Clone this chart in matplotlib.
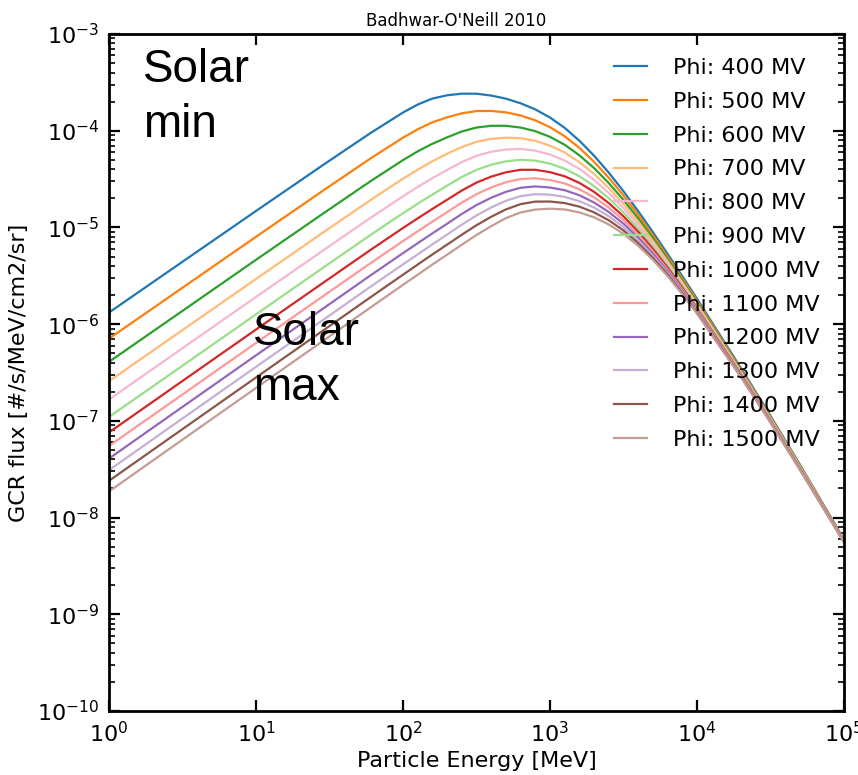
import numpy as np
import matplotlib
matplotlib.use("Agg")
import matplotlib.pyplot as plt
from matplotlib.ticker import LogLocator, NullLocator

plt.rcParams["axes.unicode_minus"] = False

# ---- data (log10 of flux, #/s/MeV/cm2/sr) ----
energy_mev = [1, 3, 10, 30, 60, 100, 126, 158, 200, 251, 316, 398, 501, 631, 794,
              1000, 1259, 1585, 1995, 2512, 3162, 3981, 5012, 6310, 7943,
              10000, 20000, 30000, 50000, 100000]

phi_labels = ["Phi: 400 MV", "Phi: 500 MV", "Phi: 600 MV", "Phi: 700 MV",
              "Phi: 800 MV", "Phi: 900 MV", "Phi: 1000 MV", "Phi: 1100 MV",
              "Phi: 1200 MV", "Phi: 1300 MV", "Phi: 1400 MV", "Phi: 1500 MV"]

log_flux_400 = [-5.88, -5.379, -4.830, -4.333, -4.025, -3.812, -3.729, -3.668, -3.633, -3.617,
                -3.617, -3.636, -3.668, -3.716, -3.779, -3.863, -3.970, -4.103, -4.258, -4.433,
                -4.625, -4.831, -5.048, -5.273, -5.503, -5.737, -6.459, -6.890, -7.449, -8.226]
log_flux_500 = [-6.15, -5.648, -5.097, -4.598, -4.288, -4.072, -3.985, -3.914, -3.861, -3.820,
                -3.797, -3.795, -3.810, -3.842, -3.892, -3.963, -4.057, -4.177, -4.321, -4.486,
                -4.669, -4.868, -5.080, -5.301, -5.526, -5.757, -6.473, -6.901, -7.457, -8.230]
log_flux_600 = [-6.39, -5.887, -5.335, -4.835, -4.523, -4.304, -4.213, -4.136, -4.068, -4.008,
                -3.967, -3.949, -3.949, -3.967, -4.004, -4.063, -4.145, -4.254, -4.386, -4.541,
                -4.715, -4.906, -5.111, -5.326, -5.549, -5.777, -6.485, -6.910, -7.464, -8.234]
log_flux_700 = [-6.59, -6.086, -5.533, -5.031, -4.718, -4.496, -4.403, -4.317, -4.237, -4.169,
                -4.115, -4.084, -4.072, -4.077, -4.104, -4.154, -4.225, -4.324, -4.446, -4.592,
                -4.756, -4.940, -5.139, -5.349, -5.568, -5.792, -6.495, -6.918, -7.469, -8.237]
log_flux_800 = [-6.78, -6.273, -5.719, -5.217, -4.902, -4.678, -4.581, -4.492, -4.405, -4.325,
                -4.260, -4.218, -4.194, -4.188, -4.206, -4.246, -4.307, -4.395, -4.508, -4.643,
                -4.799, -4.975, -5.167, -5.372, -5.586, -5.808, -6.505, -6.925, -7.475, -8.240]
log_flux_900 = [-6.96, -6.454, -5.899, -5.395, -5.079, -4.853, -4.755, -4.662, -4.568, -4.479,
                -4.405, -4.352, -4.317, -4.301, -4.309, -4.340, -4.393, -4.470, -4.572, -4.697,
                -4.844, -5.011, -5.197, -5.395, -5.605, -5.823, -6.514, -6.933, -7.480, -8.243]
log_flux_1000 = [-7.12, -6.612, -6.056, -5.551, -5.234, -5.006, -4.906, -4.810, -4.713, -4.619,
                 -4.537, -4.475, -4.430, -4.404, -4.404, -4.428, -4.471, -4.539, -4.632, -4.748,
                 -4.885, -5.044, -5.222, -5.416, -5.621, -5.837, -6.522, -6.939, -7.485, -8.245]
log_flux_1100 = [-7.26, -6.752, -6.195, -5.689, -5.371, -5.141, -5.040, -4.942, -4.841, -4.744,
                 -4.657, -4.587, -4.533, -4.499, -4.492, -4.509, -4.545, -4.605, -4.688, -4.795,
                 -4.924, -5.075, -5.247, -5.436, -5.637, -5.849, -6.529, -6.944, -7.489, -8.248]
log_flux_1200 = [-7.39, -6.880, -6.323, -5.817, -5.497, -5.266, -5.163, -5.063, -4.961, -4.861,
                 -4.769, -4.693, -4.632, -4.590, -4.576, -4.587, -4.615, -4.667, -4.742, -4.840,
                 -4.961, -5.105, -5.270, -5.453, -5.651, -5.861, -6.536, -6.950, -7.492, -8.250]
log_flux_1300 = [-7.51, -7.000, -6.442, -5.935, -5.614, -5.382, -5.279, -5.177, -5.073, -4.972,
                 -4.877, -4.794, -4.725, -4.676, -4.656, -4.661, -4.684, -4.728, -4.794, -4.884,
                 -4.997, -5.133, -5.293, -5.471, -5.665, -5.871, -6.542, -6.954, -7.496, -8.252]
log_flux_1400 = [-7.62, -7.110, -6.552, -6.044, -5.723, -5.489, -5.384, -5.281, -5.177, -5.076,
                 -4.978, -4.890, -4.814, -4.759, -4.733, -4.732, -4.748, -4.785, -4.844, -4.926,
                 -5.031, -5.161, -5.314, -5.486, -5.677, -5.881, -6.547, -6.959, -7.499, -8.253]
log_flux_1500 = [-7.73, -7.219, -6.660, -6.151, -5.829, -5.594, -5.489, -5.385, -5.281, -5.179,
                 -5.079, -4.987, -4.904, -4.845, -4.815, -4.806, -4.814, -4.844, -4.895, -4.969,
                 -5.066, -5.189, -5.335, -5.503, -5.690, -5.891, -6.553, -6.963, -7.502, -8.255]

series = [log_flux_400, log_flux_500, log_flux_600, log_flux_700, log_flux_800, log_flux_900,
          log_flux_1000, log_flux_1100, log_flux_1200, log_flux_1300, log_flux_1400, log_flux_1500]

colors = ["#1f77b4", "#ff7f0e", "#2ca02c", "#ffbb78", "#f7b6d2", "#98df8a",
          "#d62728", "#ff9896", "#9467bd", "#c5b0d5", "#8c564b", "#c49c94"]

# ---- figure ----
fig = plt.figure(figsize=(8.58, 7.75), dpi=100)
ax = fig.add_axes([0.1270, 0.0826, 0.8566, 0.8735])

for vals, lab, col in zip(series, phi_labels, colors):
    ax.plot(energy_mev, 10.0 ** np.array(vals), color=col, lw=1.6, label=lab)

ax.set_xscale("log")
ax.set_yscale("log")
ax.set_xlim(1, 1e5)
ax.set_ylim(1e-10, 1e-3)

ax.xaxis.set_minor_locator(NullLocator())
ax.yaxis.set_major_locator(LogLocator(base=10, numticks=20))
ax.yaxis.set_minor_locator(LogLocator(base=10, subs=np.arange(2, 10), numticks=100))

ax.tick_params(which="both", direction="in", top=True, right=True)
ax.tick_params(which="major", length=8, width=1.6, labelsize=16, pad=7)
ax.tick_params(which="minor", length=4, width=1.2)
for sp in ax.spines.values():
    sp.set_linewidth(2.0)

ax.set_xlabel("Particle Energy [MeV]", fontsize=16, labelpad=4)
ax.set_ylabel("GCR flux [#/s/MeV/cm2/sr]", fontsize=16, labelpad=6)
ax.set_title("Badhwar-O'Neill 2010", fontsize=12, pad=6, x=0.472)

leg = ax.legend(loc="upper right", bbox_to_anchor=(0.994, 0.994), frameon=False,
                fontsize=16, handlelength=1.5, handletextpad=1.15, labelspacing=0.62,
                borderaxespad=0.5, borderpad=0.4)

ann_font = ["Liberation Sans", "DejaVu Sans"]
ax.text(0.046, 0.929, "Solar", transform=ax.transAxes, fontsize=33, family=ann_font, va="baseline")
ax.text(0.046, 0.848, "min", transform=ax.transAxes, fontsize=33, family=ann_font, va="baseline")
ax.text(0.196, 0.541, "Solar", transform=ax.transAxes, fontsize=33, family=ann_font, va="baseline")
ax.text(0.196, 0.459, "max", transform=ax.transAxes, fontsize=33, family=ann_font, va="baseline")

fig.savefig("out.png", dpi=100)
